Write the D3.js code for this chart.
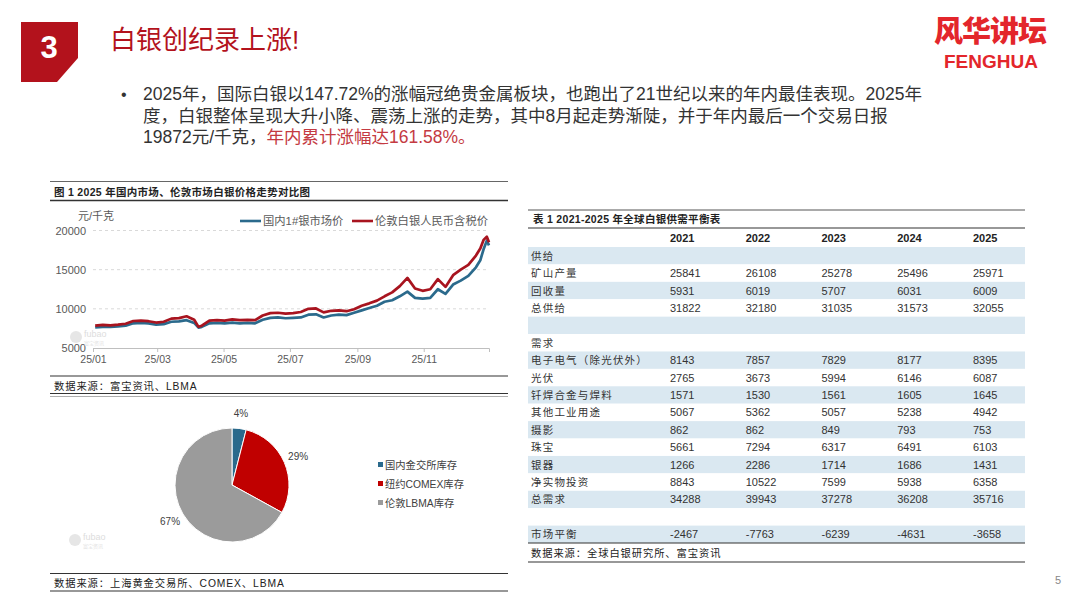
<!DOCTYPE html>
<html>
<head>
<meta charset="utf-8">
<script src="https://cdn.jsdelivr.net/npm/d3@7"></script>
<style>
  body { margin: 0; background: #fff; }
  svg text { font-family: "Liberation Sans", "Noto Sans CJK SC", sans-serif; }
</style>
</head>
<body>
<div id="slide"></div>
<script>
// ---- data ----
var priceDates = ["01-03","01-10","01-17","01-24","01-31","02-07","02-14","02-21","02-28",
  "03-07","03-14","03-21","03-28","04-04","04-08","04-11","04-18","04-25",
  "05-02","05-09","05-16","05-23","05-30","06-06","06-13","06-20","06-27",
  "07-04","07-11","07-18","07-25","08-01","08-08","08-15","08-22","08-29",
  "09-05","09-12","09-19","09-26","10-03","10-10","10-17","10-24","10-31",
  "11-07","11-14","11-21","11-28","12-05","12-12","12-19","12-23","12-26","12-29","12-31"];
var domesticPrice = [7620,7700,7680,7750,7850, 8150,8200,8150,7980, 8050,8350,8400,8550,
  8200,7600,7700,8150,8200, 8150,8250,8150,8200,8150, 8600,8850,8900,8800,
  8850,8900,9250,9300, 8900,9150,9250,9200,9500, 9800,10100,10400,10900,
  11100,11600,12200,11400,11300, 11400,12500,11900,13100,
  13600,14200,15300,16200,17600,18700,18100];
var londonPrice = [7850,7950,7900,7980,8100, 8450,8500,8420,8250, 8350,8750,8820,9050,
  8600,7700,7850,8500,8550, 8500,8650,8550,8600,8550, 9150,9450,9500,9400,
  9450,9600,10000,10050, 9550,9750,9800,9700,9950, 10400,10700,11050,11600,
  12100,12900,13950,12600,12300, 12500,13800,12800,14300,
  15000,15600,16800,17700,18800,19200,18500];
var seriesNames = ["国内1#银市场价", "伦敦白银人民币含税价"];
var yTicks = [5000, 10000, 15000, 20000];
var xTickLabels = ["25/01","25/03","25/05","25/07","25/09","25/11"];

var stockNames = ["国内金交所库存", "纽约COMEX库存", "伦敦LBMA库存"];
var stockShares = [4, 29, 67];

var tableYears = ["2021","2022","2023","2024","2025"];
var tableLabels = ["供给","矿山产量","回收量","总供给","","需求","电子电气（除光伏外）","光伏",
  "钎焊合金与焊料","其他工业用途","摄影","珠宝","银器","净实物投资","总需求","","市场平衡"];
var mineOutput      = [25841, 26108, 25278, 25496, 25971];
var recycling       = [5931, 6019, 5707, 6031, 6009];
var totalSupply     = [31822, 32180, 31035, 31573, 32055];
var electrical      = [8143, 7857, 7829, 8177, 8395];
var photovoltaic    = [2765, 3673, 5994, 6146, 6087];
var brazing         = [1571, 1530, 1561, 1605, 1645];
var otherIndustrial = [5067, 5362, 5057, 5238, 4942];
var photography     = [862, 862, 849, 793, 753];
var jewelry         = [5661, 7294, 6317, 6491, 6103];
var silverware      = [1266, 2286, 1714, 1686, 1431];
var netInvestment   = [8843, 10522, 7599, 5938, 6358];
var totalDemand     = [34288, 39943, 37278, 36208, 35716];
var marketBalance   = [-2467, -7763, -6239, -4631, -3658];
var tableValues = [null, mineOutput, recycling, totalSupply, null, null, electrical, photovoltaic,
  brazing, otherIndustrial, photography, jewelry, silverware, netInvestment, totalDemand, null, marketBalance];

// ---- slide ----
var svg = d3.select("#slide").append("svg")
    .attr("width", 1080).attr("height", 608);

var darkRed = "#b3121c";

// section number box with cut corner
svg.append("path")
    .attr("d", "M21,22 H78 V58 L57,82 H21 Z")
    .attr("fill", darkRed);
svg.append("text").attr("x", 49).attr("y", 58)
    .attr("text-anchor", "middle").attr("fill", "#fff")
    .attr("font-size", 31).attr("font-weight", "bold").text("3");

svg.append("text").attr("x", 110).attr("y", 49)
    .attr("fill", darkRed).attr("font-size", 26).text("白银创纪录上涨!");

// logo
svg.append("text").attr("x", 990).attr("y", 42).attr("text-anchor", "middle")
    .attr("fill", "#e3262b").attr("font-size", 29).attr("font-weight", 900)
    .style("font-family", "Noto Sans CJK SC").style("letter-spacing", "-1px").text("风华讲坛");
svg.append("text").attr("x", 991).attr("y", 68).attr("text-anchor", "middle")
    .attr("fill", "#e3262b").attr("font-size", 19).attr("font-weight", "bold").text("FENGHUA");

// bullet paragraph
svg.append("text").attr("x", 121).attr("y", 100).attr("font-size", 16).attr("fill", "#333").text("•");
var para = svg.append("text").attr("font-size", 17.5).attr("fill", "#333");
para.append("tspan").attr("x", 143).attr("y", 100)
    .text("2025年，国际白银以147.72%的涨幅冠绝贵金属板块，也跑出了21世纪以来的年内最佳表现。2025年");
para.append("tspan").attr("x", 143).attr("y", 122)
    .text("度，白银整体呈现大升小降、震荡上涨的走势，其中8月起走势渐陡，并于年内最后一个交易日报");
para.append("tspan").attr("x", 143).attr("y", 143).text("19872元/千克，");
para.append("tspan").attr("fill", "#c43a42").text("年内累计涨幅达161.58%。");

svg.append("text").attr("x", 1058).attr("y", 584).attr("text-anchor", "middle")
    .attr("fill", "#888").attr("font-size", 11).text("5");

// panel rules helper
function rule(x1, x2, y, w, c) {
  svg.append("line").attr("x1", x1).attr("x2", x2).attr("y1", y).attr("y2", y)
      .attr("stroke", c || "#404040").attr("stroke-width", w || 1);
}
function caption(x, y, t, bold) {
  return svg.append("text").attr("x", x).attr("y", y).attr("font-size", bold ? 10.5 : 10.3)
      .attr("font-weight", bold ? "bold" : "normal").attr("fill", "#222")
      .style("letter-spacing", bold ? "0.3px" : "0.9px").text(t);
}

// ---- line chart panel ----
rule(50, 508, 181.5, 1, "#666");
caption(54, 196, "图 1 2025 年国内市场、伦敦市场白银价格走势对比图", true);
rule(50, 508, 200.5, 1.4, "#333");
rule(50, 508, 376, 1.2, "#333");
caption(54, 390, "数据来源：富宝资讯、LBMA");
rule(50, 508, 393.5, 1.2, "#333");
rule(50, 508, 396.5, 0.8, "#999");

var x = d3.scaleTime()
    .domain([new Date(2025, 0, 1), new Date(2025, 11, 31)])
    .range([93, 489]);
var y = d3.scaleLinear().domain([5000, 20000]).range([348, 230.5]);
var parse = function (s) { return new Date(2025, +s.slice(0, 2) - 1, +s.slice(3)); };

var lc = svg.append("g");
lc.selectAll(".grid").data(yTicks.slice(1)).enter().append("line")
    .attr("x1", 93).attr("x2", 489)
    .attr("y1", function (d) { return y(d); }).attr("y2", function (d) { return y(d); })
    .attr("stroke", "#d9d9d9").attr("stroke-dasharray", "3,3");

var yAxis = d3.axisLeft(y).tickValues(yTicks).tickSize(0).tickPadding(7)
    .tickFormat(d3.format("d"));
var gy = lc.append("g").attr("transform", "translate(93,0)").call(yAxis);
gy.select(".domain").remove();
gy.selectAll("text").attr("font-size", 11).attr("fill", "#595959")
    .style("font-family", "Liberation Sans");

var xTickDates = xTickLabels.map(function (d) { return new Date(2025, +d.slice(3) - 1, 1); });
var xAxis = d3.axisBottom(x).tickValues(xTickDates).tickSize(4).tickPadding(4)
    .tickFormat(function (d, i) { return xTickLabels[i]; });
var gx = lc.append("g").attr("transform", "translate(0,348)").call(xAxis);
gx.select(".domain").attr("stroke", "#bfbfbf");
gx.selectAll("line").attr("stroke", "#bfbfbf");
gx.selectAll("text").attr("font-size", 10.5).attr("fill", "#595959")
    .style("font-family", "Liberation Sans");

lc.append("text").attr("x", 78).attr("y", 220).attr("font-size", 11)
    .attr("fill", "#595959").text("元/千克");

// faint watermark
lc.append("circle").attr("cx", 76).attr("cy", 337).attr("r", 6).attr("fill", "#e6e6e6");
lc.append("text").attr("x", 84).attr("y", 337).attr("font-size", 9).attr("fill", "#ddd").text("fubao");
lc.append("text").attr("x", 84).attr("y", 345).attr("font-size", 5).attr("fill", "#e2e2e2").text("富宝资讯");

var seriesColors = ["#2b6a8c", "#a8141f"];
var series = [domesticPrice, londonPrice];
var line = d3.line()
    .x(function (d, i) { return x(parse(priceDates[i])); })
    .y(function (d) { return y(d); });
lc.selectAll(".series").data(series).enter().append("path")
    .attr("d", line).attr("fill", "none")
    .attr("stroke", function (d, i) { return seriesColors[i]; })
    .attr("stroke-width", 2.7).attr("stroke-linejoin", "round");

var legendX = [240, 352];
seriesNames.forEach(function (n, i) {
  lc.append("line").attr("x1", legendX[i]).attr("x2", legendX[i] + 21)
      .attr("y1", 221).attr("y2", 221).attr("stroke", seriesColors[i]).attr("stroke-width", 2.6);
  lc.append("text").attr("x", legendX[i] + 23).attr("y", 225).attr("font-size", 11.3)
      .attr("fill", "#595959").text(n);
});

// ---- pie panel ----
rule(50, 508, 573.5, 1.2, "#333");
caption(54, 587, "数据来源：上海黄金交易所、COMEX、LBMA");
rule(50, 508, 591, 1.2, "#333");

var pieColors = ["#2b6a8c", "#c00000", "#9b9b9b"];
var pie = d3.pie().sort(null).value(function (d) { return d; });
var arcs = pie(stockShares);
var arc = d3.arc().innerRadius(0).outerRadius(57);
var labelArc = d3.arc().innerRadius(72).outerRadius(72);
var pg = svg.append("g").attr("transform", "translate(232,485)");
pg.selectAll("path").data(arcs).enter().append("path")
    .attr("d", arc).attr("fill", function (d, i) { return pieColors[i]; })
    .attr("stroke", "#fff").attr("stroke-width", 1);
pg.selectAll(".lbl").data(arcs).enter().append("text")
    .attr("transform", function (d) { return "translate(" + labelArc.centroid(d) + ")"; })
    .attr("dy", "0.35em").attr("text-anchor", "middle")
    .attr("font-size", 10).attr("fill", "#404040")
    .text(function (d) { return d.value + "%"; });

svg.append("circle").attr("cx", 75).attr("cy", 540).attr("r", 6).attr("fill", "#e6e6e6");
svg.append("text").attr("x", 83).attr("y", 540).attr("font-size", 9).attr("fill", "#ddd").text("fubao");
svg.append("text").attr("x", 83).attr("y", 548).attr("font-size", 5).attr("fill", "#e2e2e2").text("富宝资讯");

var legY = d3.scalePoint().domain(stockNames).range([465, 503]);
var leg = svg.append("g").selectAll("g").data(stockNames).enter().append("g")
    .attr("transform", function (d) { return "translate(378," + legY(d) + ")"; });
leg.append("rect").attr("x", 0).attr("y", -3).attr("width", 5).attr("height", 5)
    .attr("fill", function (d, i) { return pieColors[i]; });
leg.append("text").attr("x", 7).attr("y", 3.5).attr("font-size", 10.3).attr("fill", "#404040")
    .text(function (d) { return d; });

// ---- table ----
rule(528, 1025, 210, 1, "#555");
caption(533, 223, "表 1 2021-2025 年全球白银供需平衡表", true);
rule(528, 1025, 228, 1.2, "#333");

var col = d3.scalePoint().domain(tableYears).range([670, 973]);
var row = d3.scaleBand().domain(d3.range(tableLabels.length)).range([247, 543]);

var tg = svg.append("g");
tg.selectAll(".band").data(tableLabels).enter().append("rect")
    .attr("x", 528).attr("width", 497)
    .attr("y", function (d, i) { return row(i); }).attr("height", row.bandwidth())
    .attr("fill", function (d, i) { return i % 2 === 0 ? "#dae8f1" : "#fff"; });

tg.selectAll(".hdr").data(tableYears).enter().append("text")
    .attr("x", function (d) { return col(d); }).attr("y", 242)
    .attr("font-size", 11).attr("font-weight", "bold").attr("fill", "#222")
    .text(function (d) { return d; });

tg.selectAll(".lab").data(tableLabels).enter().append("text")
    .attr("x", 531).attr("y", function (d, i) { return row(i) + row.bandwidth() / 2 + 4; })
    .attr("font-size", 10.5).attr("fill", "#333").style("letter-spacing", "1.2px")
    .text(function (d) { return d; });

tableValues.forEach(function (vals, i) {
  if (!vals) return;
  tg.selectAll(".v" + i).data(vals).enter().append("text")
      .attr("x", function (d, j) { return col(tableYears[j]); })
      .attr("y", row(i) + row.bandwidth() / 2 + 4)
      .attr("font-size", 11).attr("fill", "#333")
      .text(function (d) { return d < 0 ? "-" + Math.abs(d) : d; });
});

rule(528, 1025, 543, 1.2, "#333");
caption(531, 557, "数据来源：全球白银研究所、富宝资讯");
rule(528, 1025, 562, 1.2, "#333");
</script>
</body>
</html>
